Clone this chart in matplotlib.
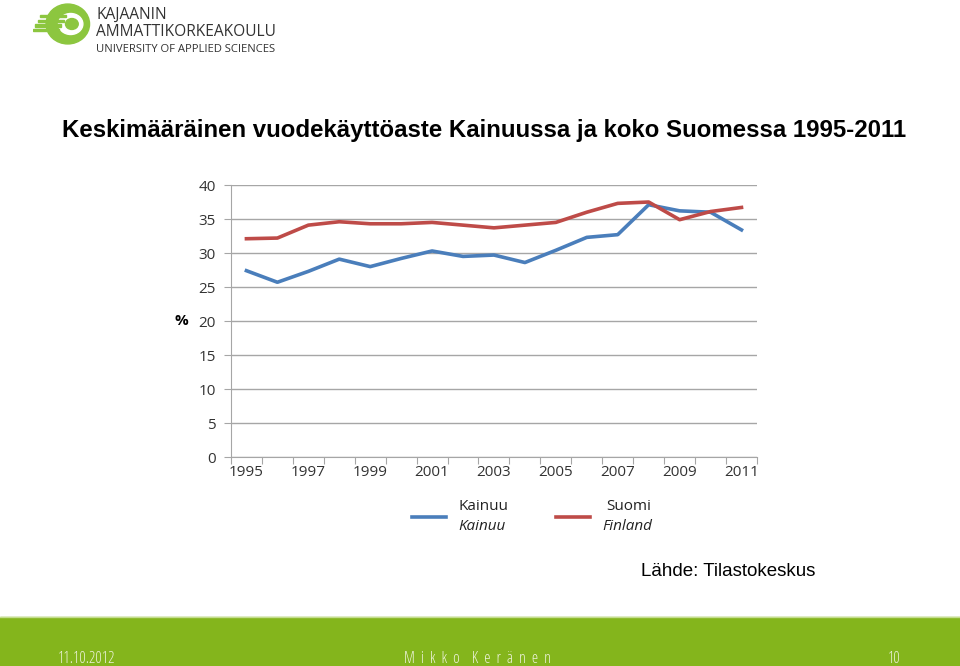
import matplotlib
matplotlib.use("Agg")
import matplotlib.pyplot as plt
from matplotlib.patches import Ellipse, Rectangle

years = list(range(1995, 2012))
kainuu = [27.4, 25.7, 27.3, 29.1, 28.0, 29.2, 30.3, 29.5, 29.7, 28.6,
          30.4, 32.3, 32.7, 37.1, 36.2, 36.0, 33.4]
suomi = [32.1, 32.2, 34.1, 34.6, 34.3, 34.3, 34.5, 34.1, 33.7, 34.1,
         34.5, 36.0, 37.3, 37.5, 34.9, 36.1, 36.7]
yticks = [0, 5, 10, 15, 20, 25, 30, 35, 40]
xlabels = [str(y) if (y - 1995) % 2 == 0 else "" for y in years]

blue = "#4a7ebb"
red = "#be4b48"
green = "#84b51c"
tickfont = "Open Sans"

fig = plt.figure(figsize=(9.6, 6.66), dpi=100)
fig.patch.set_facecolor("white")

# logo (rough)
logo = fig.add_axes([33 / 960, 1 - 45 / 666, 58 / 960, 42 / 666])
logo.set_xlim(0, 1)
logo.set_ylim(0, 1)
logo.axis("off")
logo.add_patch(Ellipse((0.6, 0.5), 0.75, 0.95, color="#8cc63f"))
logo.add_patch(Ellipse((0.65, 0.5), 0.42, 0.5, color="white"))
logo.add_patch(Ellipse((0.67, 0.5), 0.22, 0.26, color="#8cc63f"))
for i, yy in enumerate([0.33, 0.44, 0.55, 0.66]):
    logo.add_patch(Rectangle((0.0 + i * 0.04, yy), 0.45, 0.05, color="#8cc63f"))
fig.text(96 / 960, 1 - 15 / 666, "KAJAANIN", fontsize=11.2, family="Open Sans",
         color="#333333", va="center")
fig.text(96 / 960, 1 - 32 / 666, "AMMATTIKORKEAKOULU", fontsize=11.2,
         family="Open Sans", color="#333333", va="center")
fig.text(96 / 960, 1 - 49 / 666, "UNIVERSITY OF APPLIED SCIENCES", fontsize=8.1,
         family="Open Sans", color="#333333", va="center")

fig.text(0.504, 0.804, "Keskimääräinen vuodekäyttöaste Kainuussa ja koko Suomessa 1995-2011",
         fontsize=17.3, fontweight="bold", family="Liberation Sans", ha="center",
         va="center")

ax = fig.add_axes([0.2406, 0.3138, 0.5479, 0.4084])
x = list(range(len(years)))
ax.plot(x, kainuu, color=blue, lw=2.6, solid_joinstyle="round")
ax.plot(x, suomi, color=red, lw=2.6, solid_joinstyle="round")
ax.set_xlim(-0.5, len(years) - 0.5)
ax.set_ylim(0, 40)
ax.set_yticks(yticks)
ax.set_yticklabels([str(v) for v in yticks], family=tickfont, fontsize=11,
                   color="#333333")
ax.yaxis.grid(True, color="#a6a6a6", lw=1)
ax.set_axisbelow(True)
ax.set_xticks([i + 0.5 for i in range(-1, len(years))], minor=False)
ax.set_xticklabels([])
ax.set_xticks(x, minor=True)
ax.set_xticklabels(xlabels, minor=True, family=tickfont, fontsize=11,
                   color="#333333")
ax.tick_params(axis="x", which="minor", length=0, pad=6)
ax.tick_params(axis="x", which="major", length=5, color="#a6a6a6", direction="out")
ax.tick_params(axis="y", length=5, color="#a6a6a6", pad=6)
for s in ["top", "right"]:
    ax.spines[s].set_visible(False)
ax.spines["left"].set_color("#a6a6a6")
ax.spines["bottom"].set_color("#a6a6a6")
ax.set_ylabel("%", family=tickfont, fontsize=11, rotation=0, labelpad=12,
              va="center", fontweight="bold")

# legend
fig.add_artist(plt.Line2D([412 / 960, 446 / 960], [1 - 517 / 666] * 2,
                          color=blue, lw=2.6))
fig.add_artist(plt.Line2D([556 / 960, 590 / 960], [1 - 517 / 666] * 2,
                          color=red, lw=2.6))
fig.text(458 / 960, 1 - 507 / 666, "Kainuu", family=tickfont, fontsize=11,
         va="center", color="#222222")
fig.text(458 / 960, 1 - 527 / 666, "Kainuu", family=tickfont, fontsize=11,
         va="center", style="italic", color="#222222")
fig.text(606 / 960, 1 - 507 / 666, "Suomi", family=tickfont, fontsize=11,
         va="center", color="#222222")
fig.text(602 / 960, 1 - 527 / 666, "Finland", family=tickfont, fontsize=11,
         va="center", style="italic", color="#222222")

fig.text(641 / 960, 1 - 571 / 666, "Lähde: Tilastokeskus", family="Liberation Sans",
         fontsize=13.5, va="center")

# footer band
fig.add_artist(Rectangle((0, 0), 1, 49 / 666, transform=fig.transFigure,
                         color=green))
fig.add_artist(plt.Line2D([0, 1], [49 / 666] * 2, color="#c5dd8f", lw=1))
foot = dict(fontsize=11.5, color="#eef3dc", family="Open Sans", stretch="condensed",
            weight="light", va="baseline")
fig.text(58 / 960, 3 / 666, "11.10.2012", **foot)
fig.text(477 / 960, 3 / 666, "M  i  k  k  o    K  e  r  ä  n  e  n",
         ha="center", **foot)
fig.text(888 / 960, 3 / 666, "10", **foot)

fig.savefig("out.png", dpi=100)
